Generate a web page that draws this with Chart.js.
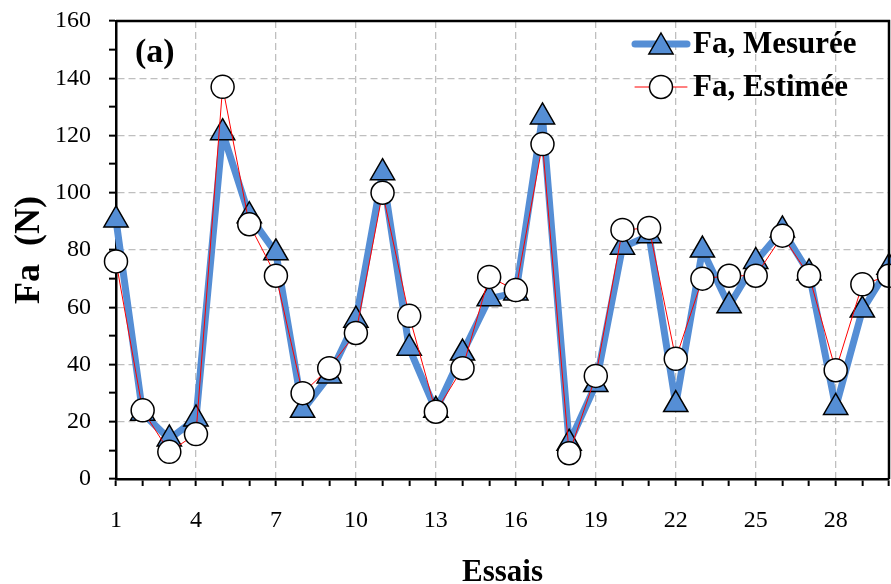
<!DOCTYPE html>
<html>
<head>
<meta charset="utf-8">
<script src="https://cdn.jsdelivr.net/npm/chart.js@4/dist/chart.umd.min.js"></script>
<style>
  body { margin: 0; background: #fff; }
  #wrap { width: 891px; height: 584px; }
</style>
</head>
<body>
<div id="wrap"><canvas id="myChart"></canvas></div>
<script>
// essais 1..30
const essais = [1,2,3,4,5,6,7,8,9,10,11,12,13,14,15,16,17,18,19,20,21,22,23,24,25,26,27,28,29,30];
const faMesuree = [90.5,23,14,21,121,92,79,24,36,55.5,107,45.7,24,44,63,65,126.5,12.5,33,81,85,26,80,60.5,76,87,72,25,59,74];
const faEstimee = [76,24,9.5,15.7,137,89,71,30,38.7,51,100,57,23.5,38.7,70.6,66,117,9,36,87,87.7,42,70,71,71,85,71,38,68,71];
const yTicks = [0,20,40,60,80,100,120,140,160];

const serif = "'Liberation Serif', 'Times New Roman', serif";
const blue = '#558ED5';

function toPoints(vals){
  return essais.map((e, i) => ({x: e, y: vals[i]}));
}

// frame top/right, the (a) label and the legend inside the plot
const extras = {
  id: 'extras',
  afterDraw(chart){
    const ctx = chart.ctx;
    const a = chart.chartArea;
    ctx.save();
    ctx.strokeStyle = '#000';
    ctx.lineWidth = 2.5;
    ctx.beginPath();
    ctx.moveTo(a.left, a.top);
    ctx.lineTo(a.right, a.top);
    ctx.lineTo(a.right, a.bottom);
    ctx.stroke();

    ctx.fillStyle = '#000';
    ctx.font = "bold 34px " + serif;
    ctx.textBaseline = 'middle';
    ctx.fillText('(a)', 135, 53);

    // legend
    const rows = [
      {label: 'Fa, Mesurée', y: 44, color: blue, width: 7, marker: 'tri'},
      {label: 'Fa, Estimée', y: 87, color: 'red', width: 1, marker: 'circ'}
    ];
    rows.forEach(r => {
      ctx.strokeStyle = r.color;
      ctx.lineWidth = r.width;
      ctx.lineCap = 'round';
      ctx.beginPath();
      ctx.moveTo(635, r.y);
      ctx.lineTo(687, r.y);
      ctx.stroke();
      ctx.lineWidth = 1.5;
      ctx.strokeStyle = '#000';
      ctx.beginPath();
      if (r.marker === 'tri') {
        const rad = 14, cx = 661, cy = r.y + 3;
        ctx.moveTo(cx, cy - rad);
        ctx.lineTo(cx + rad * 0.866, cy + rad / 2);
        ctx.lineTo(cx - rad * 0.866, cy + rad / 2);
        ctx.closePath();
        ctx.fillStyle = blue;
      } else {
        ctx.arc(661, r.y, 11.5, 0, Math.PI * 2);
        ctx.fillStyle = '#fff';
      }
      ctx.fill();
      ctx.stroke();
      ctx.fillStyle = '#000';
      ctx.font = "bold 31px " + serif;
      ctx.textBaseline = 'middle';
      ctx.fillText(r.label, 693, r.y + 1);
    });
    ctx.restore();
  }
};

new Chart(document.getElementById('myChart'), {
  type: 'line',
  data: {
    datasets: [
      {
        label: 'Fa, Mesurée',
        data: toPoints(faMesuree),
        borderColor: blue,
        borderWidth: 7,
        borderJoinStyle: 'round',
        borderCapStyle: 'round',
        pointStyle: 'triangle',
        pointRadius: 14,
        pointBackgroundColor: blue,
        pointBorderColor: '#000',
        pointBorderWidth: 1.5,
        order: 2,
        clip: false
      },
      {
        label: 'Fa, Estimée',
        data: toPoints(faEstimee),
        borderColor: 'red',
        borderWidth: 1,
        pointStyle: 'circle',
        pointRadius: 11.5,
        pointBackgroundColor: '#fff',
        pointBorderColor: '#000',
        pointBorderWidth: 1.5,
        order: 1,
        clip: false
      }
    ]
  },
  options: {
    responsive: true,
    maintainAspectRatio: false,
    animation: false,
    layout: { autoPadding: false, padding: { top: 21, right: 2, left: 0, bottom: 0 } },
    plugins: {
      legend: { display: false },
      tooltip: { enabled: false }
    },
    scales: {
      x: {
        type: 'linear',
        min: 1,
        max: 30,
        afterFit(scale){
          scale.height = 105;
          scale.paddingLeft = 0;
          scale.paddingRight = 0;
        },
        ticks: {
          stepSize: 1,
          autoSkip: false,
          maxRotation: 0,
          padding: 20,
          color: '#000',
          font: { family: serif, size: 24 },
          callback: v => ((v - 1) % 3 === 0 ? v : '')
        },
        grid: {
          color: c => ((c.tick.value - 1) % 3 === 0 ? '#bfbfbf' : 'rgba(0,0,0,0)'),
          lineWidth: 1.3,
          tickColor: '#000',
          tickLength: 7,
          tickWidth: 2
        },
        border: { color: '#000', width: 2.5, dash: [7, 4] },
        title: {
          display: true,
          text: 'Essais',
          color: '#000',
          font: { family: serif, size: 31, weight: 'bold', lineHeight: 1 },
          padding: { top: 0, bottom: -4 }
        }
      },
      y: {
        min: 0,
        max: 160,
        afterFit(scale){
          scale.width = 116;
          scale.paddingTop = 0;
          scale.paddingBottom = 0;
        },
        ticks: {
          stepSize: 10,
          autoSkip: false,
          padding: 18,
          color: '#000',
          font: { family: serif, size: 24 },
          callback: v => (yTicks.includes(v) ? v : '')
        },
        grid: {
          color: c => (c.tick.value % 20 === 0 ? '#bfbfbf' : 'rgba(0,0,0,0)'),
          lineWidth: 1.3,
          tickColor: '#000',
          tickLength: 7,
          tickWidth: 2
        },
        border: { color: '#000', width: 2.5, dash: [7, 4] },
        title: {
          display: true,
          text: 'Fa  (N)',
          color: '#000',
          font: { family: serif, size: 36, weight: 'bold', lineHeight: 1.2 },
          padding: { top: 8, bottom: 0 }
        }
      }
    }
  },
  plugins: [extras]
});
</script>
</body>
</html>
